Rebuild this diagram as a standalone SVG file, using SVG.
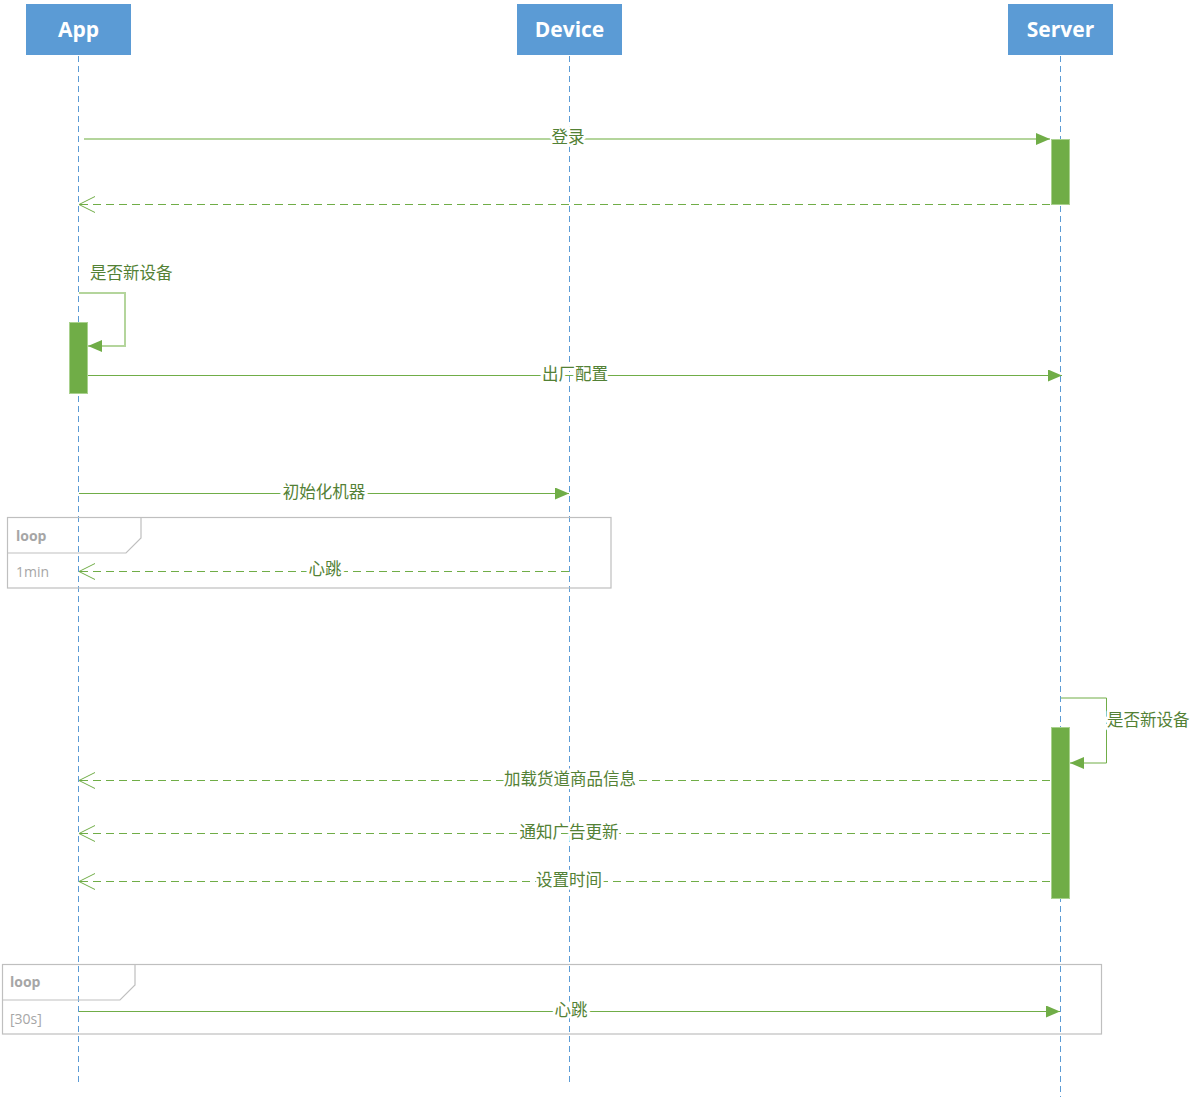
<svg xmlns="http://www.w3.org/2000/svg" width="1200" height="1100" viewBox="0 0 1200 1100">
<style>
.hdr{fill:#5b9bd5}
.hdrt{font-family:"Open Sans","Liberation Sans",sans-serif;font-weight:bold;font-size:21px;fill:#fff;text-anchor:middle}
.life{stroke:#5b9bd5;stroke-width:1;stroke-dasharray:6,4;fill:none}
.act{fill:#70ad47;stroke:#a9d18e;stroke-width:1}
.msg{stroke:#70ad47;stroke-width:1;fill:none}
.msgl{stroke:#b4d59c;stroke-width:2;fill:none}
.dash{stroke:#70ad47;stroke-width:1;stroke-dasharray:8,5;fill:none}
.lbl{font-family:"Noto Sans CJK SC","Microsoft YaHei",sans-serif;font-size:16.5px;fill:#538135;stroke:#fff;stroke-width:6;paint-order:stroke;stroke-linejoin:round}
.lbll{font-family:"Noto Sans CJK SC","Microsoft YaHei",sans-serif;font-size:16.5px;fill:#538135}
.frame{fill:none;stroke:#bfbfbf;stroke-width:1.2}
.ft{font-family:"Open Sans","Liberation Sans",sans-serif;font-size:14px;fill:#a6a6a6}
.ftb{font-family:"Open Sans","Liberation Sans",sans-serif;font-size:14px;font-weight:bold;fill:#a6a6a6}
</style>
<defs>
<marker id="fa" markerWidth="14" markerHeight="12" refX="14" refY="6" orient="auto" markerUnits="userSpaceOnUse">
<path d="M0,0 L14,6 L0,12 Z" fill="#70ad47"/>
</marker>
<marker id="oa" markerWidth="18" markerHeight="18" refX="17" refY="9" orient="auto" markerUnits="userSpaceOnUse">
<path d="M1,1 L17,9 L1,17" fill="none" stroke="#70ad47" stroke-width="1"/>
</marker>
</defs>
<rect width="1200" height="1100" fill="#fff"/>

<g id="lifelines">
<line class="life" x1="78.5" y1="56" x2="78.5" y2="1085"/>
<line class="life" x1="569.5" y1="56" x2="569.5" y2="1085"/>
<line class="life" x1="1060.5" y1="56" x2="1060.5" y2="1097"/>
</g>

<g id="frame1">
<rect class="frame" x="7.5" y="517.5" width="603.5" height="70.5"/>
<path class="frame" d="M7.5,553 L126,553 L141,538 L141,517.5"/>
<text class="ftb" x="16" y="541">loop</text>
<text class="ft" x="16" y="577">1min</text>
</g>
<g id="frame2">
<rect class="frame" x="2.5" y="964.5" width="1099" height="69.5"/>
<path class="frame" d="M2.5,1000 L120,1000 L135,985 L135,964.5"/>
<text class="ftb" x="10" y="987">loop</text>
<text class="ft" x="10" y="1024">[30s]</text>
</g>

<g id="App"><rect class="hdr" x="26" y="4" width="105" height="51"/><text class="hdrt" x="78.5" y="37">App</text></g>
<g id="Device"><rect class="hdr" x="517" y="4" width="105" height="51"/><text class="hdrt" x="569.5" y="37">Device</text></g>
<g id="Server"><rect class="hdr" x="1008" y="4" width="105" height="51"/><text class="hdrt" x="1060.5" y="37">Server</text></g>

<g id="activations">
<rect class="act" x="1051.5" y="139.5" width="18" height="65"/>
<rect class="act" x="69.5" y="322.5" width="18" height="71"/>
<rect class="act" x="1051.5" y="727.5" width="18" height="171"/>
</g>

<g id="connectors">
<line class="msgl" x1="84" y1="139" x2="1050" y2="139" marker-end="url(#fa)"/>
<line class="dash" x1="1050" y1="204.5" x2="79" y2="204.5" marker-end="url(#oa)"/>
<path class="msgl" d="M79,293 L125,293 L125,346 L88,346" marker-end="url(#fa)"/>
<line class="msg" x1="88" y1="375.5" x2="1062" y2="375.5" marker-end="url(#fa)"/>
<line class="msg" x1="79" y1="493.5" x2="569" y2="493.5" marker-end="url(#fa)"/>
<line class="dash" x1="569" y1="571.5" x2="79" y2="571.5" marker-end="url(#oa)"/>
<path class="msg" d="M1061,698 L1106.5,698 L1106.5,763 L1070,763" marker-end="url(#fa)"/>
<line class="dash" x1="1050" y1="780.5" x2="79" y2="780.5" marker-end="url(#oa)"/>
<line class="dash" x1="1050" y1="833.5" x2="79" y2="833.5" marker-end="url(#oa)"/>
<line class="dash" x1="1050" y1="881.5" x2="79" y2="881.5" marker-end="url(#oa)"/>
<line class="msg" x1="79" y1="1011.5" x2="1060" y2="1011.5" marker-end="url(#fa)"/>
</g>

<g id="labels">
<text class="lbl" x="568" y="143" text-anchor="middle">登录</text>
<text class="lbll" x="90" y="279">是否新设备</text>
<text class="lbl" x="575" y="380" text-anchor="middle">出厂配置</text>
<text class="lbl" x="324" y="498" text-anchor="middle">初始化机器</text>
<text class="lbl" x="325" y="575" text-anchor="middle">心跳</text>
<text class="lbl" x="1107" y="726">是否新设备</text>
<text class="lbl" x="570" y="785" text-anchor="middle">加载货道商品信息</text>
<text class="lbl" x="569" y="838" text-anchor="middle">通知广告更新</text>
<text class="lbl" x="569" y="886" text-anchor="middle">设置时间</text>
<text class="lbl" x="571" y="1016" text-anchor="middle">心跳</text>
</g>
</svg>
